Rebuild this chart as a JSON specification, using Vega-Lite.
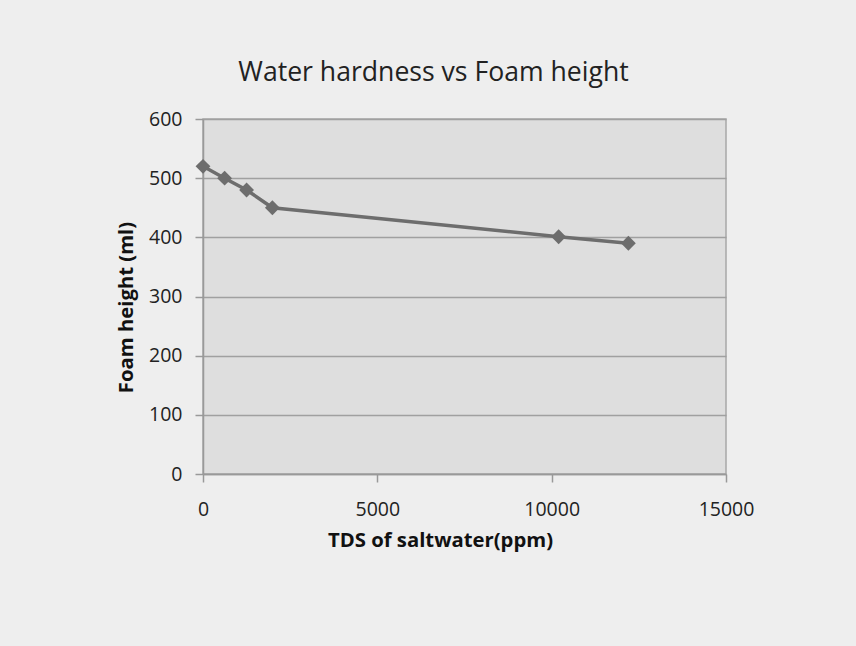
{
  "$schema": "https://vega.github.io/schema/vega-lite/v6.json",
  "autosize": "none",
  "width": 523,
  "height": 355,
  "padding": {"left": 203, "top": 119, "right": 130, "bottom": 172},
  "background": "#eeeeee",
  "title": {
    "text": "Water hardness vs Foam height",
    "font": "Open Sans",
    "fontSize": 26.6,
    "fontWeight": "normal",
    "color": "#222222",
    "anchor": "middle",
    "dx": -31,
    "offset": 22
  },
  "config": {
    "view": {"fill": "#dedede", "stroke": "#a8a8a8", "strokeWidth": 1.5},
    "axis": {
      "labelFont": "Open Sans",
      "labelFontSize": 19.5,
      "labelColor": "#222222",
      "titleFont": "Open Sans",
      "titleFontSize": 20.3,
      "titleFontWeight": "bold",
      "titleColor": "#111111",
      "domainColor": "#999999",
      "domainWidth": 1.5,
      "tickColor": "#999999",
      "tickWidth": 1.5,
      "tickSize": 8,
      "gridColor": "#a0a0a0",
      "gridWidth": 1.5,
      "labelFlush": false
    }
  },
  "data": {
    "values": [
      {"tds": 0, "foam": 520},
      {"tds": 620, "foam": 500},
      {"tds": 1250, "foam": 480},
      {"tds": 1990, "foam": 450},
      {"tds": 10200, "foam": 401},
      {"tds": 12200, "foam": 390}
    ]
  },
  "encoding": {
    "x": {
      "field": "tds",
      "type": "quantitative",
      "scale": {"domain": [0, 15000], "nice": false},
      "axis": {
        "title": "TDS of saltwater(ppm)",
        "values": [0, 5000, 10000, 15000],
        "format": "d",
        "grid": false,
        "labelPadding": 18,
        "titlePadding": 12,
        "titleX": 237,
        "titleAlign": "center"
      }
    },
    "y": {
      "field": "foam",
      "type": "quantitative",
      "scale": {"domain": [0, 600], "nice": false},
      "axis": {
        "title": "Foam height (ml)",
        "values": [0, 100, 200, 300, 400, 500, 600],
        "labelPadding": 13,
        "titlePadding": 12,
        "titleY": 188
      }
    }
  },
  "layer": [
    {"mark": {"type": "line", "color": "#6d6d6d", "strokeWidth": 3.5}},
    {"mark": {"type": "point", "shape": "diamond", "filled": true, "color": "#6d6d6d", "size": 220, "opacity": 1}}
  ]
}
